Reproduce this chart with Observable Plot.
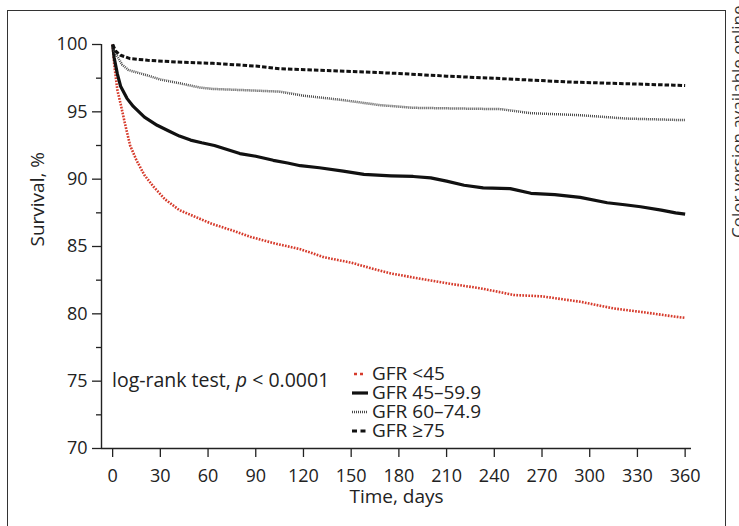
<!DOCTYPE html>
<html>
<head>
<meta charset="utf-8">
<script src="https://cdn.jsdelivr.net/npm/d3@7"></script>
<script src="https://cdn.jsdelivr.net/npm/@observablehq/plot@0.6"></script>
<style>
  html, body { margin: 0; padding: 0; background: #fff; }
  #wrap { position: relative; width: 739px; height: 526px; overflow: hidden; font-family: "Open Sans", sans-serif; color: #222; }
  #border { position: absolute; left: 7px; top: 10px; width: 717px; height: 560px; border: 1.5px solid #333; }
  #chart { position: absolute; left: 0; top: 0; }
  .note { position: absolute; font-size: 19.5px; white-space: nowrap; color: #222; }
  #legend { position: absolute; left: 350px; top: 364px; font-size: 19px; }
  #legend .row { display: flex; align-items: center; height: 19px; white-space: nowrap; }
  #legend .row span { display: inline-block; height: 19px; line-height: 19px; overflow: visible; }
  #legend svg { width: 20px; height: 19px; margin-right: 2px; flex: none; }
</style>
</head>
<body>
<div id="wrap">
  <div id="border"></div>
  <div id="chart"></div>
  <div class="note" id="logrank" style="left:112px; top:368px; line-height:24px;">log-rank test, <i>p</i> &lt; 0.0001</div>
  <div id="legend"></div>
  <svg id="side" width="739" height="526" style="position:absolute;left:0;top:0;pointer-events:none">
    <text transform="translate(744,238) rotate(-90)" font-family="Open Sans" font-size="17" fill="#333">Color version available online</text>
  </svg>
</div>
<script>
// ---- data ----
const seriesNames = ["GFR <45", "GFR 45\u201359.9", "GFR 60\u201374.9", "GFR \u226575"];

const lt45Days = [0, 1, 3, 5, 8, 11, 15, 20, 26, 33, 42, 50, 62, 75, 87, 103, 118, 133, 150, 162, 175, 189, 214, 231, 244, 252, 270, 294, 315, 335, 353, 360];
const lt45Surv = [100, 98.5, 96.6, 95.6, 94.0, 92.5, 91.4, 90.3, 89.4, 88.5, 87.7, 87.3, 86.7, 86.2, 85.7, 85.2, 84.8, 84.2, 83.8, 83.4, 83.0, 82.7, 82.2, 81.9, 81.6, 81.4, 81.3, 80.9, 80.4, 80.1, 79.8, 79.7];

const g45Days = [0, 1, 3, 5, 9, 13, 20, 28, 35, 42, 49, 56, 64, 72, 80, 90, 101, 110, 118, 130, 145, 158, 175, 189, 200, 210, 221, 233, 250, 263, 278, 294, 311, 322, 332, 345, 354, 360];
const g45Surv = [100, 99.0, 97.8, 96.9, 96.0, 95.4, 94.6, 94.0, 93.6, 93.2, 92.9, 92.7, 92.5, 92.2, 91.9, 91.7, 91.4, 91.2, 91.0, 90.85, 90.6, 90.35, 90.25, 90.2, 90.1, 89.85, 89.55, 89.35, 89.3, 88.95, 88.85, 88.65, 88.25, 88.1, 87.95, 87.7, 87.5, 87.4];

const g60Days = [0, 1, 3, 6, 10, 22, 30, 43, 55, 63, 85, 105, 120, 143, 168, 189, 215, 244, 263, 294, 323, 354, 360];
const g60Surv = [100, 99.5, 99.1, 98.5, 98.1, 97.7, 97.4, 97.1, 96.8, 96.7, 96.6, 96.5, 96.2, 95.9, 95.5, 95.3, 95.25, 95.2, 94.9, 94.75, 94.5, 94.4, 94.4];

const g75Days = [0, 2, 5, 11, 22, 40, 63, 90, 105, 150, 180, 210, 244, 286, 319, 353, 360];
const g75Surv = [100, 99.5, 99.2, 98.95, 98.83, 98.7, 98.6, 98.4, 98.2, 98.0, 97.85, 97.65, 97.47, 97.22, 97.1, 96.98, 96.95];

const xTicks = [0, 30, 60, 90, 120, 150, 180, 210, 240, 270, 300, 330, 360];
const yTicks = [70, 75, 80, 85, 90, 95, 100];
const yMinorTicks = [72.5, 77.5, 82.5, 87.5, 92.5, 97.5];
const xDomain = [-7, 364];
const yDomain = [70, 100];

// ---- styles ----
const styles = [
  {stroke: "#d63b2c", strokeWidth: 2.6, dash: "1.7,1.3", legendDash: "3,3", x1: 4, x2: 14},
  {stroke: "#111", strokeWidth: 3.2, dash: null, legendDash: null, x1: 2, x2: 18},
  {stroke: "#4a4a4a", strokeWidth: 2.5, dash: "1,1", legendDash: "1,1", x1: 2, x2: 18},
  {stroke: "#111", strokeWidth: 3, dash: "4.5,2", legendDash: "5,3.5", x1: 2, x2: 16}
];

const toRows = (days, surv) => days.map((d, i) => ({day: d, surv: surv[i]}));
const allRows = [toRows(lt45Days, lt45Surv), toRows(g45Days, g45Surv), toRows(g60Days, g60Surv), toRows(g75Days, g75Surv)];

const lineMarks = allRows.map((rows, i) => Plot.line(rows, {
  x: "day", y: "surv",
  stroke: styles[i].stroke, strokeWidth: styles[i].strokeWidth,
  strokeDasharray: styles[i].dash, strokeLinecap: "butt", strokeLinejoin: "round"
}));

const chart = Plot.plot({
  width: 739, height: 526,
  marginLeft: 101, marginRight: 48, marginTop: 44, marginBottom: 78,
  style: {fontFamily: "Open Sans", fontSize: "18px", color: "#222", background: "transparent"},
  x: {domain: xDomain},
  y: {domain: yDomain},
  marks: [
    Plot.ruleX([xDomain[0]], {stroke: "#222", strokeWidth: 1.4}),
    Plot.ruleY([yDomain[0]], {stroke: "#222", strokeWidth: 1.4}),
    Plot.axisY({ticks: yTicks, tickSize: 9, tickPadding: 5, label: null, fontSize: 18, strokeWidth: 1.3}),
    Plot.axisY({ticks: yMinorTicks, tickSize: 5, tickFormat: () => "", label: null, strokeWidth: 1.3}),
    Plot.axisX({ticks: xTicks, tickSize: 9, tickPadding: 12, label: null, fontSize: 18, strokeWidth: 1.3}),
    Plot.text(["Time, days"], {frameAnchor: "bottom", dy: 54, fontSize: 19, fill: "#222"}),
    Plot.text(["Survival, %"], {frameAnchor: "left", rotate: -90, dx: -64, fontSize: 19, fill: "#222"}),
    ...lineMarks
  ]
});
document.getElementById("chart").appendChild(chart);

// legend
const legend = document.getElementById("legend");
seriesNames.forEach((name, i) => {
  const s = styles[i];
  const row = document.createElement("div");
  row.className = "row";
  const dash = s.legendDash ? `stroke-dasharray="${s.legendDash}"` : "";
  row.innerHTML = `<svg viewBox="0 0 20 19"><line x1="${s.x1}" x2="${s.x2}" y1="10" y2="10" stroke="${s.stroke}" stroke-width="${s.strokeWidth}" ${dash}/></svg><span>${name}</span>`;
  legend.appendChild(row);
});
</script>
</body>
</html>
